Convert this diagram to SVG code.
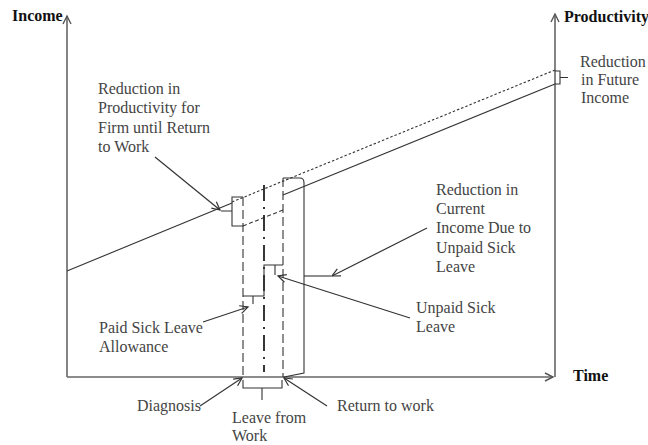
<svg xmlns="http://www.w3.org/2000/svg" width="648" height="445" viewBox="0 0 648 445">
<style>
.t{font-family:"Liberation Serif","Times New Roman",serif;font-size:16px;fill:#444}
.b{font-family:"Liberation Serif","Times New Roman",serif;font-size:16px;font-weight:bold;fill:#111}
.ax{stroke:#666;stroke-width:1.6;fill:none}
.ln{stroke:#333;stroke-width:1.1;fill:none}
.dot{stroke:#333;stroke-width:1.1;fill:none;stroke-dasharray:2.5 2}
.dsh{stroke:#333;stroke-width:1.1;fill:none;stroke-dasharray:9 4}
.dsh2{stroke:#333;stroke-width:1.1;fill:none;stroke-dasharray:4 2.5}
.dd{stroke:#222;stroke-width:1.8;fill:none;stroke-dasharray:16 6 2 6}
.ar{stroke:#333;stroke-width:1.2;fill:none;marker-end:url(#ah)}
</style>
<defs>
<marker id="ah" markerUnits="userSpaceOnUse" markerWidth="12" markerHeight="12" refX="9" refY="5" orient="auto">
<path d="M1,1 L9,5 L1,9" fill="none" stroke="#333" stroke-width="1.2"/>
</marker>
<marker id="axh" markerUnits="userSpaceOnUse" markerWidth="12" markerHeight="12" refX="9" refY="5" orient="auto">
<path d="M1,1 L9,5 L1,9" fill="none" stroke="#555" stroke-width="1.4"/>
</marker>
</defs>
<g id="axes">
<line class="ax" x1="67" y1="377" x2="67" y2="16" marker-end="url(#axh)"/>
<line class="ax" x1="67" y1="377" x2="553" y2="377" marker-end="url(#axh)"/>
<line class="ax" x1="555" y1="377" x2="555" y2="14" marker-end="url(#axh)"/>
</g>
<g id="connectors">
<line class="ln" x1="67" y1="271" x2="232" y2="203"/>
<line class="dot" x1="232" y1="202" x2="555" y2="70"/>
<line class="dsh2" x1="243" y1="226" x2="283" y2="210"/>
<line class="ln" x1="283" y1="195" x2="555" y2="84"/>
<path class="ln" d="M243,197 H232 V226 H243 M232,211 H221"/>
<line class="dsh" x1="243" y1="197" x2="243" y2="377"/>
<line class="dd" x1="264" y1="185" x2="264" y2="372"/>
<line class="dsh" x1="283" y1="178" x2="283" y2="377"/>
<path class="ln" d="M283,178 H300 Q304,178 304,183 V373 L284,377"/>
<path class="ln" d="M243,296 H264 V265 H283 M253,296 V304 M275,265 V275"/>
<line class="ln" x1="304" y1="276" x2="331" y2="276"/>
<path class="ln" d="M555,71 H560 V84 H555 M560,77.5 H568"/>
<path class="ln" d="M243,380 V388 H282 V380 M262,388 V400"/>
<line class="ar" x1="155" y1="157" x2="220" y2="210"/>
<line class="ar" x1="427" y1="228" x2="332" y2="276"/>
<line class="ar" x1="410" y1="318" x2="278" y2="276"/>
<line class="ar" x1="203" y1="322" x2="248" y2="307"/>
<line class="ar" x1="200" y1="406" x2="242" y2="378"/>
<line class="ar" x1="327" y1="406" x2="284" y2="378"/>
</g>
<g id="label-income"><text class="b" x="12" y="21">Income</text></g>
<g id="label-productivity"><text class="b" x="564" y="22">Productivity</text></g>
<g id="label-time"><text class="b" x="573" y="381">Time</text></g>
<g id="label-reduction-productivity">
<text class="t" x="98" y="94">Reduction in</text>
<text class="t" x="98" y="113">Productivity for</text>
<text class="t" x="98" y="133">Firm until Return</text>
<text class="t" x="98" y="152">to Work</text>
</g>
<g id="label-future-income">
<text class="t" x="580" y="67">Reduction</text>
<text class="t" x="581" y="85">in Future</text>
<text class="t" x="581" y="103">Income</text>
</g>
<g id="label-current-income">
<text class="t" x="436" y="195">Reduction in</text>
<text class="t" x="436" y="214">Current</text>
<text class="t" x="436" y="233">Income Due to</text>
<text class="t" x="436" y="253">Unpaid Sick</text>
<text class="t" x="436" y="272">Leave</text>
</g>
<g id="label-unpaid">
<text class="t" x="416" y="313">Unpaid Sick</text>
<text class="t" x="416" y="332">Leave</text>
</g>
<g id="label-paid">
<text class="t" x="99" y="333">Paid Sick Leave</text>
<text class="t" x="99" y="352">Allowance</text>
</g>
<g id="label-diagnosis"><text class="t" x="201" y="411" text-anchor="end">Diagnosis</text></g>
<g id="label-leave">
<text class="t" x="232" y="423">Leave from</text>
<text class="t" x="232" y="441">Work</text>
</g>
<g id="label-return"><text class="t" x="337" y="411">Return to work</text></g>
</svg>
